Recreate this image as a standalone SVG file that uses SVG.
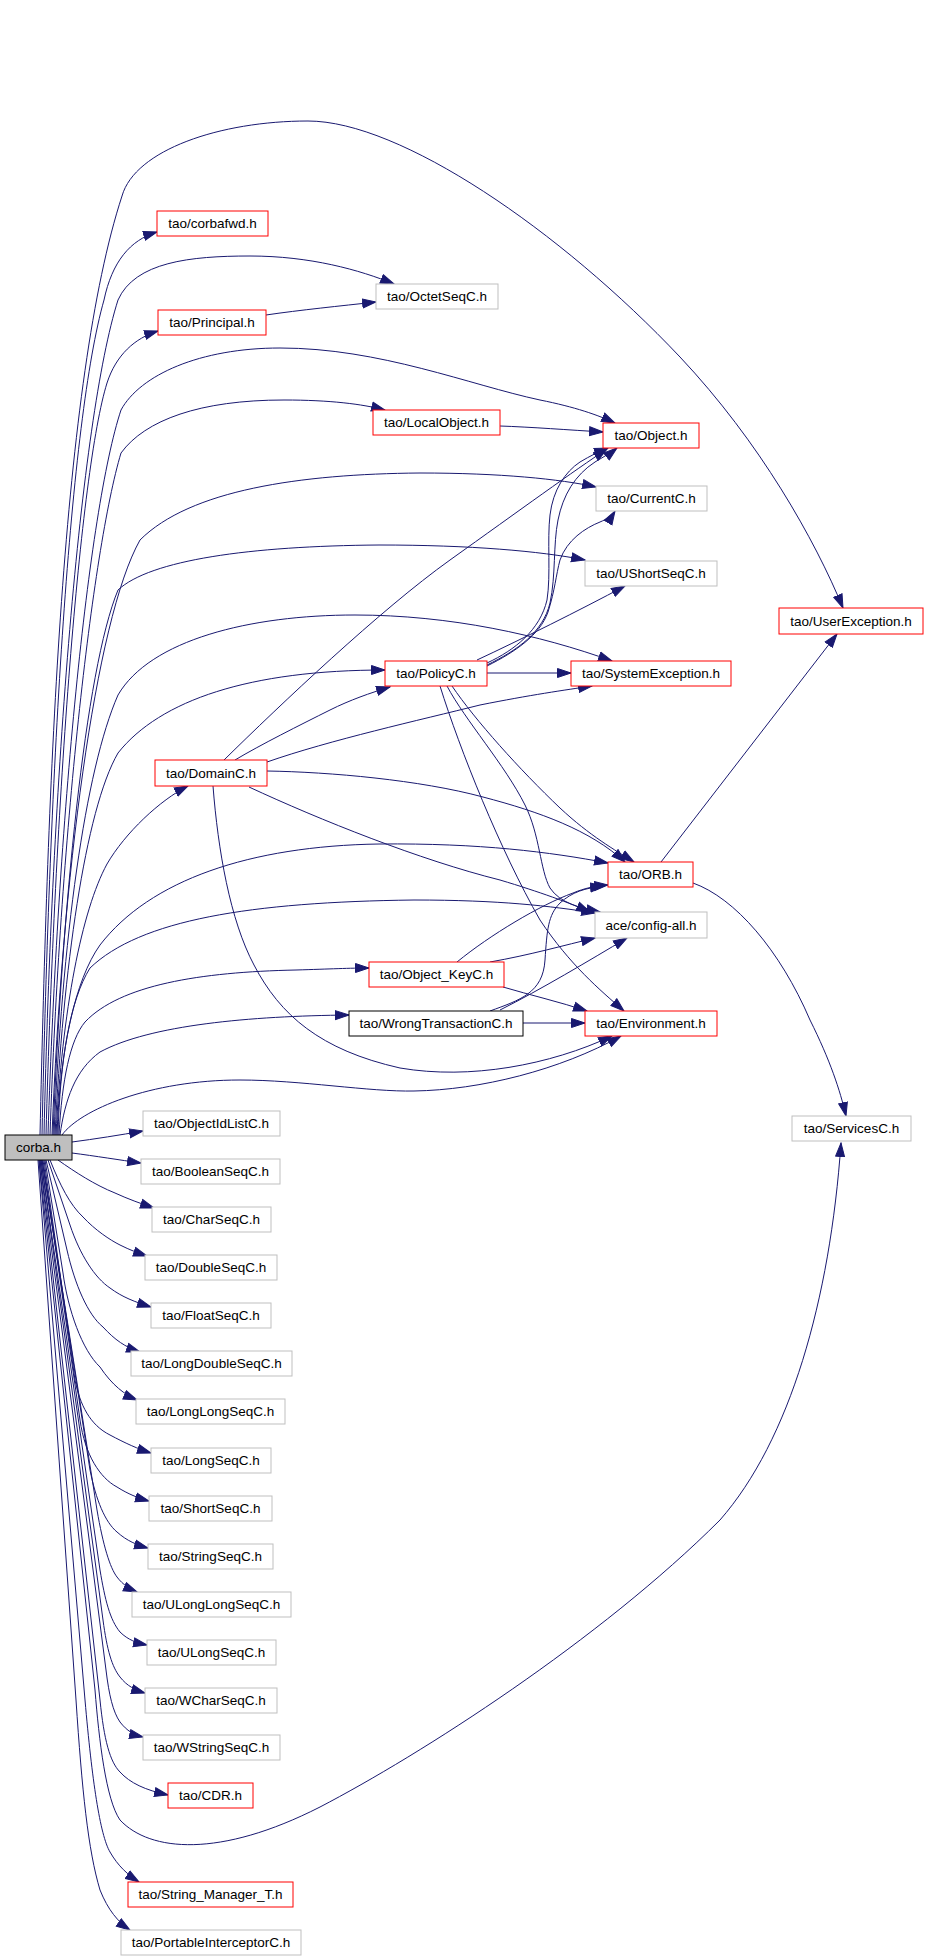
<svg xmlns="http://www.w3.org/2000/svg" width="928" height="1959" viewBox="0 0 928 1959">
<style>
.n rect{fill:#ffffff;stroke-width:1}
.r rect{stroke:#ff0000}
.g rect{stroke:#bfbfbf}
.k rect{stroke:#000000}
.n text{font-family:"Liberation Sans",Arial,sans-serif;font-size:13.5px;text-anchor:middle;fill:#000000}
.e path{fill:none;stroke:#191970;stroke-width:1;marker-end:url(#ah)}
</style>
<defs>
<marker id="ah" markerUnits="userSpaceOnUse" markerWidth="15" markerHeight="11" refX="14" refY="5" orient="auto" viewBox="0 0 15 10">
<path d="M0.5,0.5 L14,5 L0.5,9.5 z" fill="#191970" stroke="#191970" stroke-width="1"/>
</marker>
</defs>
<rect width="928" height="1959" fill="#ffffff"/>
<g id="edges" class="e">
<path d="M40,1135 C48,780 62,380 122,196 C135,150 220,121 308,121 C400,121 560,230 680,357 C760,442 815,540 843,608"/>
<path d="M42,1135 C50,760 70,420 104,300 C112,262 130,240 157,232"/>
<path d="M44,1135 C52,780 80,420 118,300 C135,262 190,256 250,256 C310,256 360,270 394,284"/>
<path d="M46,1135 C55,800 80,470 107,383 C116,355 135,338 158,331"/>
<path d="M48,1135 C58,820 88,510 121,410 C140,375 200,348 280,348 C380,348 470,385 540,400 C575,407 598,415 615,423"/>
<path d="M50,1135 C60,840 92,550 121,453 C145,420 200,400 284,400 C330,400 362,404 385,410"/>
<path d="M52,1135 C62,880 95,620 140,540 C190,490 300,474 420,473 C500,473 560,479 596,487"/>
<path d="M53,1135 C62,910 85,670 118,590 C150,560 250,546 379,545 C470,545 540,551 585,560"/>
<path d="M54,1135 C62,940 85,770 118,695 C150,640 250,615 355,615 C450,615 540,635 612,661"/>
<path d="M55,1135 C63,970 85,810 118,753 C160,700 250,670 385,670"/>
<path d="M56,1135 C62,1010 82,910 107,864 C125,833 160,800 188,786"/>
<path d="M57,1135 C60,1050 75,980 100,945 C150,880 250,846 379,844 C480,843 550,852 608,863"/>
<path d="M58,1135 C60,1060 70,1000 90,968 C140,920 250,902 414,900 C500,900 550,906 595,913"/>
<path d="M59,1135 C62,1080 70,1040 85,1022 C120,985 200,972 296,970 C330,969 350,968 369,968"/>
<path d="M60,1135 C65,1100 75,1070 100,1052 C150,1025 250,1016 349,1015"/>
<path d="M62,1135 C80,1110 150,1080 240,1080 C300,1080 370,1092 414,1091 C480,1090 560,1070 621,1036"/>
<path d="M72,1142 C95,1139 120,1135 143,1131"/>
<path d="M72,1153 C95,1156 120,1160 141,1163"/>
<path d="M58,1160 C75,1172 95,1185 115,1193 C128,1199 142,1204 154,1208"/>
<path d="M50,1160 C60,1185 70,1205 83,1217 C95,1230 110,1240 120,1245 C130,1250 138,1253 147,1256"/>
<path d="M48,1160 L70,1225 C80,1255 95,1278 110,1288 C122,1297 135,1302 151,1307"/>
<path d="M46,1160 L67,1250 C75,1285 88,1315 103,1327 C115,1340 125,1347 140,1352"/>
<path d="M45,1160 L63,1273 C68,1310 82,1350 100,1367 C112,1385 125,1395 137,1400"/>
<path d="M44,1160 L75,1380 C80,1405 90,1425 110,1435 C125,1443 138,1449 151,1453"/>
<path d="M43,1160 L80,1420 C85,1455 100,1478 117,1487 C128,1494 138,1498 149,1501"/>
<path d="M42,1160 L90,1470 C96,1500 105,1522 117,1532 C127,1541 137,1545 148,1548"/>
<path d="M42,1160 L97,1510 C103,1545 110,1568 117,1577 C123,1585 130,1589 137,1592"/>
<path d="M41,1160 L100,1570 C105,1600 110,1620 120,1632 C128,1640 137,1643 147,1645"/>
<path d="M41,1160 L103,1620 C107,1650 112,1667 120,1677 C127,1686 135,1690 145,1693"/>
<path d="M40,1160 L106,1670 C109,1695 113,1712 120,1722 C127,1731 134,1735 143,1737"/>
<path d="M40,1160 L100,1700 C104,1740 110,1762 120,1772 C130,1783 145,1790 168,1795"/>
<path d="M39,1160 L95,1690 C99,1740 106,1800 120,1820 C150,1852 220,1858 320,1807 C420,1755 600,1640 720,1520 C790,1440 830,1300 841,1143"/>
<path d="M39,1160 L85,1700 C92,1780 100,1835 110,1852 C118,1866 128,1875 139,1882"/>
<path d="M38,1160 L76,1700 C82,1790 88,1850 100,1890 C108,1910 118,1922 130,1930"/>
<path d="M266,315 C300,310 340,306 376,302"/>
<path d="M500,426 C530,427 570,430 603,432"/>
<path d="M224,760 C280,705 380,610 450,560 C520,510 575,470 607,449"/>
<path d="M235,760 C260,745 300,725 330,710 C350,700 370,693 390,687"/>
<path d="M267,762 C330,740 420,720 480,705 C530,695 565,690 592,686"/>
<path d="M267,771 C330,772 420,780 483,797 C540,812 590,830 625,862"/>
<path d="M249,787 C320,820 420,860 500,880 C540,892 570,903 590,912"/>
<path d="M213,786 C218,850 230,920 254,965 C280,1015 320,1050 400,1068 C470,1080 550,1065 612,1036"/>
<path d="M487,663 C515,650 540,630 547,600 C551,575 547,540 550,515 C553,490 565,472 580,462 C590,456 600,451 608,448"/>
<path d="M487,665 C518,650 543,632 550,603 C556,575 553,545 558,520 C563,495 575,475 595,462 C605,456 612,452 617,448"/>
<path d="M487,666 C515,652 540,635 548,612 C555,590 556,575 560,560 C567,540 585,528 600,522 C607,519 612,516 615,511"/>
<path d="M477,660 C520,640 580,610 625,586"/>
<path d="M487,673 L571,673"/>
<path d="M452,686 C475,720 520,770 560,808 C590,836 615,850 634,862"/>
<path d="M447,686 C465,720 505,765 525,805 C540,835 540,870 550,888 C560,903 580,908 600,912"/>
<path d="M440,686 C460,750 500,850 540,920 C570,965 600,990 624,1011"/>
<path d="M457,962 C490,935 540,905 573,893 C585,888 595,886 608,885"/>
<path d="M490,962 C530,955 565,945 595,938"/>
<path d="M503,987 C530,995 560,1002 587,1011"/>
<path d="M490,1011 C520,1000 543,993 545,960 C547,930 548,915 560,903 C572,892 585,888 604,886"/>
<path d="M500,1010 C540,990 590,960 627,938"/>
<path d="M523,1023 L585,1023"/>
<path d="M661,862 L837,634"/>
<path d="M693,883 C735,898 780,950 810,1020 C830,1060 840,1090 846,1116"/>
</g>
<g id="corba_h" class="n"><rect x="5" y="1135" width="67" height="25" stroke="#000000" style="fill:#bfbfbf"/><text x="38.5" y="1152">corba.h</text></g>
<g id="tao_corbafwd_h" class="n r"><rect x="157" y="211" width="111" height="25"/><text x="212.5" y="228">tao/corbafwd.h</text></g>
<g id="tao_OctetSeqC_h" class="n g"><rect x="376" y="284" width="122" height="25"/><text x="437" y="301">tao/OctetSeqC.h</text></g>
<g id="tao_Principal_h" class="n r"><rect x="158" y="310" width="108" height="25"/><text x="212" y="327">tao/Principal.h</text></g>
<g id="tao_LocalObject_h" class="n r"><rect x="373" y="410" width="127" height="25"/><text x="436.5" y="427">tao/LocalObject.h</text></g>
<g id="tao_Object_h" class="n r"><rect x="603" y="423" width="96" height="25"/><text x="651" y="440">tao/Object.h</text></g>
<g id="tao_CurrentC_h" class="n g"><rect x="596" y="486" width="111" height="25"/><text x="651.5" y="503">tao/CurrentC.h</text></g>
<g id="tao_UShortSeqC_h" class="n g"><rect x="585" y="561" width="132" height="25"/><text x="651" y="578">tao/UShortSeqC.h</text></g>
<g id="tao_UserException_h" class="n r"><rect x="779" y="608" width="144" height="26"/><text x="851" y="626">tao/UserException.h</text></g>
<g id="tao_PolicyC_h" class="n r"><rect x="385" y="661" width="102" height="25"/><text x="436" y="678">tao/PolicyC.h</text></g>
<g id="tao_SystemException_h" class="n r"><rect x="571" y="661" width="160" height="25"/><text x="651" y="678">tao/SystemException.h</text></g>
<g id="tao_DomainC_h" class="n r"><rect x="155" y="760" width="112" height="26"/><text x="211" y="778">tao/DomainC.h</text></g>
<g id="tao_ORB_h" class="n r"><rect x="608" y="862" width="85" height="25"/><text x="650.5" y="879">tao/ORB.h</text></g>
<g id="ace_config_all_h" class="n g"><rect x="595" y="912" width="112" height="26"/><text x="651" y="930">ace/config-all.h</text></g>
<g id="tao_Object_KeyC_h" class="n r"><rect x="369" y="962" width="135" height="25"/><text x="436.5" y="979">tao/Object_KeyC.h</text></g>
<g id="tao_WrongTransactionC_h" class="n k"><rect x="349" y="1011" width="174" height="25"/><text x="436" y="1028">tao/WrongTransactionC.h</text></g>
<g id="tao_Environment_h" class="n r"><rect x="585" y="1011" width="132" height="25"/><text x="651" y="1028">tao/Environment.h</text></g>
<g id="tao_ServicesC_h" class="n g"><rect x="792" y="1116" width="119" height="25"/><text x="851.5" y="1133">tao/ServicesC.h</text></g>
<g id="tao_ObjectIdListC_h" class="n g"><rect x="143" y="1111" width="137" height="25"/><text x="211.5" y="1128">tao/ObjectIdListC.h</text></g>
<g id="tao_BooleanSeqC_h" class="n g"><rect x="141" y="1159" width="139" height="25"/><text x="210.5" y="1176">tao/BooleanSeqC.h</text></g>
<g id="tao_CharSeqC_h" class="n g"><rect x="152" y="1207" width="119" height="25"/><text x="211.5" y="1224">tao/CharSeqC.h</text></g>
<g id="tao_DoubleSeqC_h" class="n g"><rect x="145" y="1255" width="132" height="25"/><text x="211" y="1272">tao/DoubleSeqC.h</text></g>
<g id="tao_FloatSeqC_h" class="n g"><rect x="151" y="1303" width="120" height="25"/><text x="211" y="1320">tao/FloatSeqC.h</text></g>
<g id="tao_LongDoubleSeqC_h" class="n g"><rect x="131" y="1351" width="161" height="25"/><text x="211.5" y="1368">tao/LongDoubleSeqC.h</text></g>
<g id="tao_LongLongSeqC_h" class="n g"><rect x="136" y="1399" width="149" height="25"/><text x="210.5" y="1416">tao/LongLongSeqC.h</text></g>
<g id="tao_LongSeqC_h" class="n g"><rect x="151" y="1448" width="120" height="25"/><text x="211" y="1465">tao/LongSeqC.h</text></g>
<g id="tao_ShortSeqC_h" class="n g"><rect x="149" y="1496" width="123" height="25"/><text x="210.5" y="1513">tao/ShortSeqC.h</text></g>
<g id="tao_StringSeqC_h" class="n g"><rect x="148" y="1544" width="125" height="25"/><text x="210.5" y="1561">tao/StringSeqC.h</text></g>
<g id="tao_ULongLongSeqC_h" class="n g"><rect x="132" y="1592" width="159" height="25"/><text x="211.5" y="1609">tao/ULongLongSeqC.h</text></g>
<g id="tao_ULongSeqC_h" class="n g"><rect x="147" y="1640" width="129" height="25"/><text x="211.5" y="1657">tao/ULongSeqC.h</text></g>
<g id="tao_WCharSeqC_h" class="n g"><rect x="145" y="1688" width="132" height="25"/><text x="211" y="1705">tao/WCharSeqC.h</text></g>
<g id="tao_WStringSeqC_h" class="n g"><rect x="143" y="1735" width="137" height="25"/><text x="211.5" y="1752">tao/WStringSeqC.h</text></g>
<g id="tao_CDR_h" class="n r"><rect x="168" y="1783" width="85" height="25"/><text x="210.5" y="1800">tao/CDR.h</text></g>
<g id="tao_String_Manager_T_h" class="n r"><rect x="128" y="1882" width="165" height="25"/><text x="210.5" y="1899">tao/String_Manager_T.h</text></g>
<g id="tao_PortableInterceptorC_h" class="n g"><rect x="121" y="1930" width="180" height="25"/><text x="211" y="1947">tao/PortableInterceptorC.h</text></g>
</svg>
